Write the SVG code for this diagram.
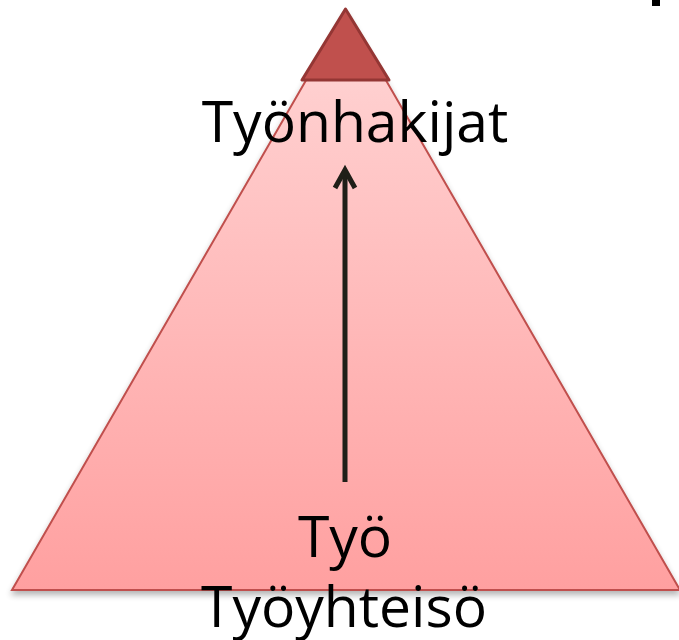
<svg xmlns="http://www.w3.org/2000/svg" width="679" height="640" viewBox="0 0 679 640">
<defs>
<linearGradient id="g" x1="0" y1="0" x2="0" y2="1">
<stop offset="0" stop-color="#ffd6d6"/>
<stop offset="1" stop-color="#ffa0a0"/>
</linearGradient>
<filter id="sh" x="-10%" y="-10%" width="120%" height="130%">
<feGaussianBlur in="SourceAlpha" stdDeviation="3"/>
<feOffset dx="0" dy="4"/>
<feComponentTransfer><feFuncA type="linear" slope="0.3"/></feComponentTransfer>
<feMerge><feMergeNode/><feMergeNode in="SourceGraphic"/></feMerge>
</filter>
<style>
.t{font-family:"Open Sans","DejaVu Sans",sans-serif;font-size:57px;fill:#000;text-anchor:middle}
.arr{stroke:#1f1f18;stroke-width:5;fill:none;stroke-linecap:butt;stroke-linejoin:miter}
</style>
</defs>
<rect width="679" height="640" fill="#fff"/>
<rect x="652" y="0" width="8" height="6" fill="#000"/>
<g id="pyramid">
<polygon points="346,11 12,590 680,590" fill="url(#g)" stroke="#c0504d" stroke-width="2" filter="url(#sh)"/>
</g>
<g id="top">
<polygon points="345.5,9 302,80 389,80" fill="#c0504d" stroke="#943634" stroke-width="3" stroke-linejoin="round"/>
</g>
<g id="connectors">
<line class="arr" x1="345" y1="482" x2="345" y2="172"/>
<polyline class="arr" points="335,188 345,170 355,188"/>
</g>
<g id="label-top">
<text class="t" x="355" y="142">Työnhakijat</text>
</g>
<g id="label-bottom">
<text class="t" x="345" y="557">Työ</text>
<text class="t" x="344" y="627" font-size="56">Työyhteisö</text>
</g>
</svg>
